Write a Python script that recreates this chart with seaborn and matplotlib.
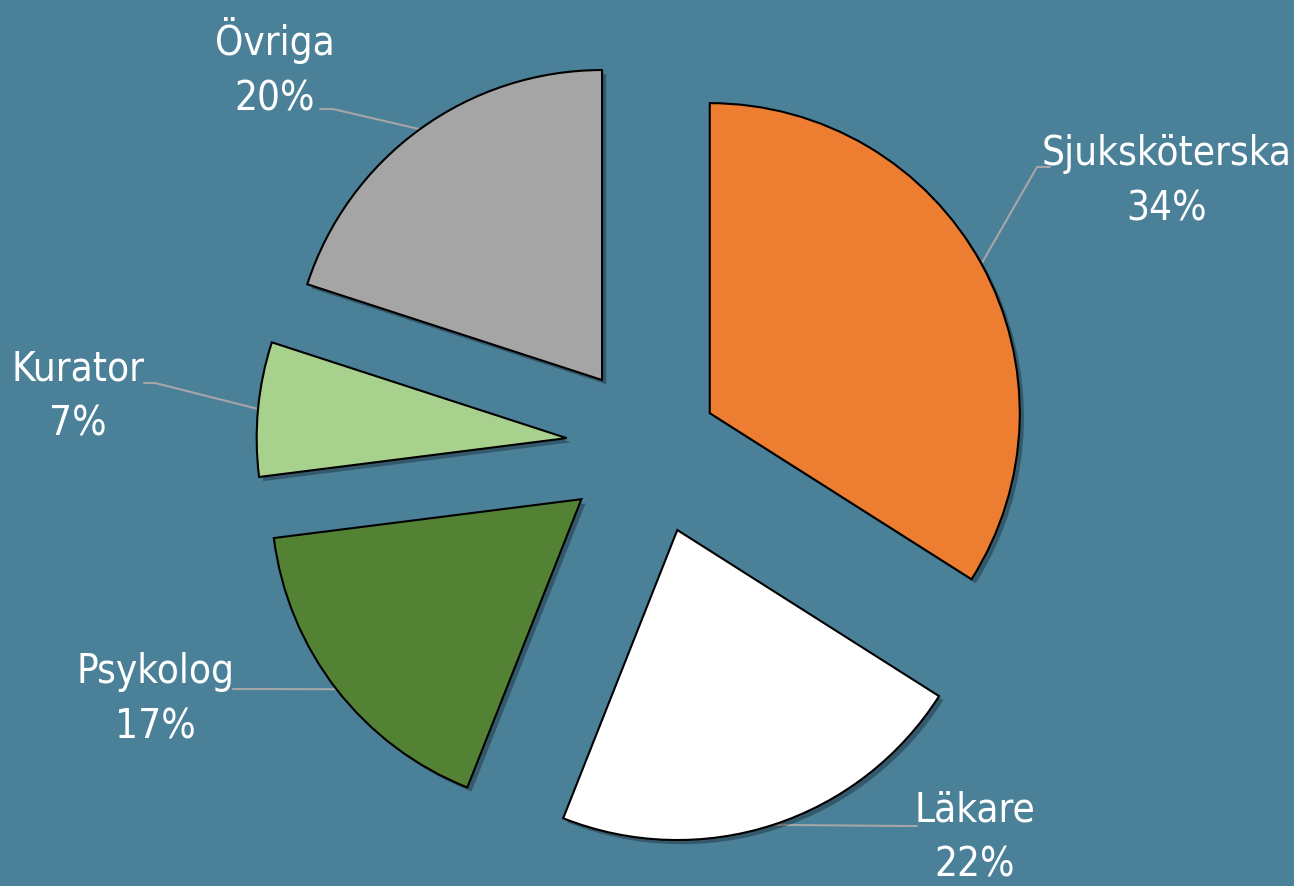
import numpy as np
import seaborn as sns
import matplotlib.pyplot as plt
import matplotlib.patheffects as pe

# data
categories = ["Sjuksköterska", "Läkare", "Psykolog", "Kurator", "Övriga"]
shares = [34, 22, 17, 7, 20]
pct_labels = ["34%", "22%", "17%", "7%", "20%"]

# styling / layout
colors = ["#ed7d31", "#ffffff", "#548235", "#a9d18e", "#a5a5a5"]
explode = [0.22, 0.285, 0.28, 0.27, 0.263]   # fraction of radius
bg = "#4b8099"
W, H = 1294, 886
center = (650, H - 446)
radius = 310
# label text centre and leader elbow/end points (pixel coords, y down)
label_pos = [(1167, 182), (975, 838), (155, 700), (78, 397), (275, 68)]
leader_pts = [[(1037, 167), (1050, 167)],
              [(905, 826), (917, 826)],
              [(245, 689), (233, 689)],
              [(155, 383), (144, 383)],
              [(333, 109), (320, 109)]]

sns.set_theme(style="white")
plt.rcParams["font.family"] = ["DejaVu Sans"]

fig = plt.figure(figsize=(W / 100, H / 100), dpi=100)
fig.patch.set_facecolor(bg)
ax = fig.add_axes([0, 0, 1, 1])
ax.set_facecolor(bg)

# pie() takes explode in data units, so scale by the radius
wedges, _ = ax.pie(shares, colors=colors, explode=[e * radius for e in explode], startangle=90,
                   counterclock=False, center=center, radius=radius,
                   wedgeprops=dict(edgecolor="black", linewidth=1.5))
for w in wedges:
    w.set_path_effects([pe.SimplePatchShadow(offset=(3, -3), shadow_rgbFace="black", alpha=0.3),
                        pe.Normal()])

for i, w in enumerate(wedges):
    mid = np.deg2rad((w.theta1 + w.theta2) / 2)
    cx, cy = w.center
    sx, sy = cx + w.r * np.cos(mid), cy + w.r * np.sin(mid)
    xs = [sx] + [p[0] for p in leader_pts[i]]
    ys = [sy] + [H - p[1] for p in leader_pts[i]]
    ax.plot(xs, ys, color="#a6a6a6", lw=1.5, zorder=0.5)
    lx, ly = label_pos[i]
    ax.text(lx, H - ly, f"{categories[i]}\n{pct_labels[i]}", ha="center", va="center",
            color="white", fontsize=29, linespacing=1.5, fontstretch="condensed")

ax.set_xlim(0, W)
ax.set_ylim(0, H)
ax.set_aspect("equal")
ax.axis("off")

fig.savefig("out.png", dpi=100, facecolor=bg)
